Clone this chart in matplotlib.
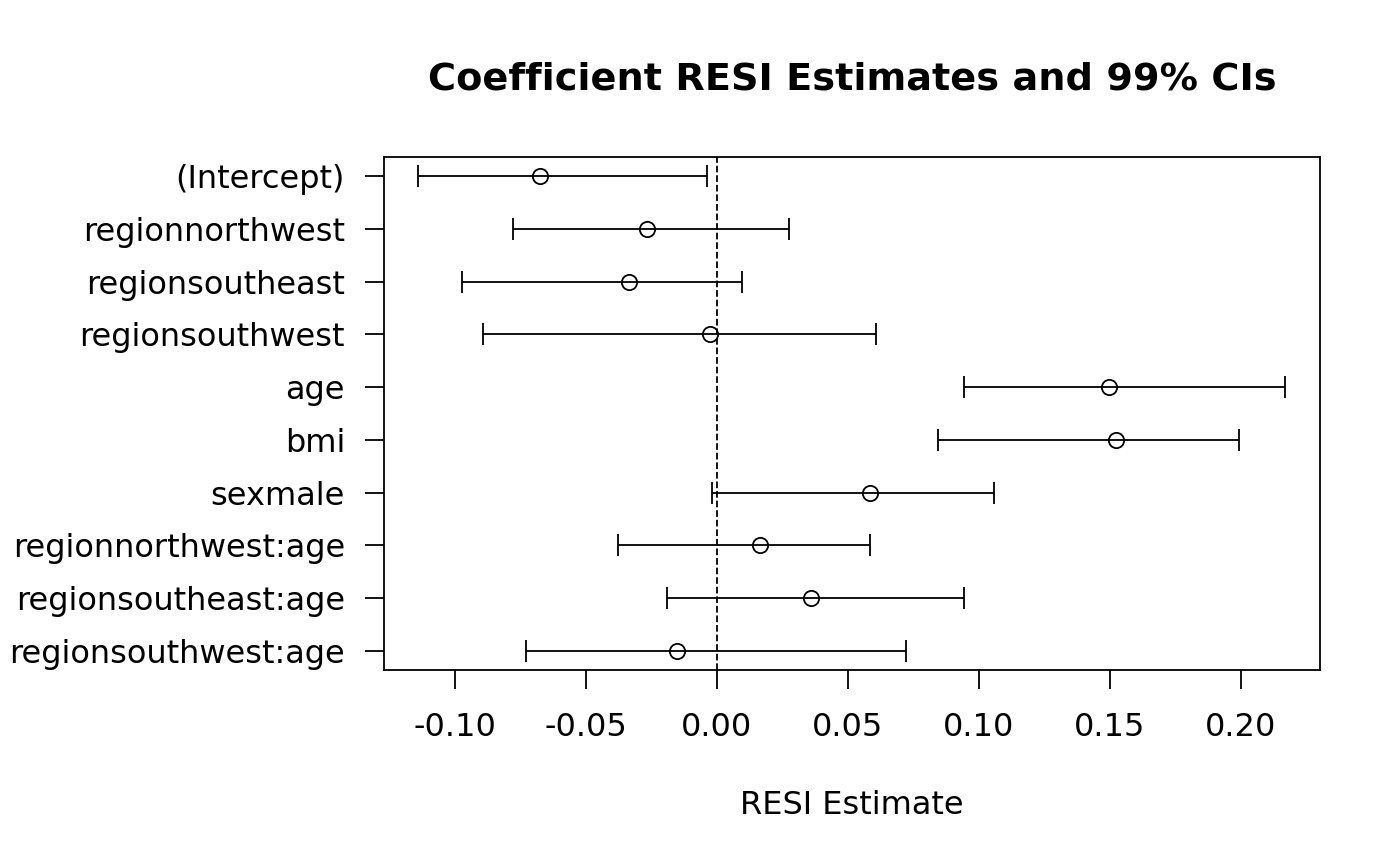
import numpy as np
import matplotlib.pyplot as plt

# coefficient names, top to bottom
terms = ['(Intercept)', 'regionnorthwest', 'regionsoutheast', 'regionsouthwest',
         'age', 'bmi', 'sexmale', 'regionnorthwest:age', 'regionsoutheast:age',
         'regionsouthwest:age']
est = [-0.0676, -0.0267, -0.0336, -0.0027, 0.1496, 0.1523, 0.0584, 0.0164, 0.0359, -0.0153]
lower = [-0.114, -0.0779, -0.0973, -0.0893, 0.0943, 0.0844, -0.0019, -0.0378, -0.0191, -0.0729]
upper = [-0.0038, 0.0275, 0.0095, 0.0607, 0.2168, 0.1992, 0.1057, 0.0584, 0.0943, 0.0721]

y = np.arange(len(terms), 0, -1)

fig = plt.figure(figsize=(14, 8.66), dpi=100)
ax = fig.add_axes([384/1400, 1-670/866, (1320-384)/1400, (670-157)/866])

ax.hlines(y, lower, upper, color='black', lw=1.3)
ax.plot(lower, y, '|', color='black', ms=16, mew=1.3)
ax.plot(upper, y, '|', color='black', ms=16, mew=1.3)
ax.plot(est, y, 'o', mfc='none', mec='black', ms=11, mew=1.3)
ax.axvline(0, color='black', ls='--', lw=1.3)

ax.set_xlim(-0.1271, 0.2302)
ax.set_ylim(0.64, 10.36)
ax.set_yticks(y)
ax.set_yticklabels(terms, fontsize=23)
xt = np.arange(-0.10, 0.201, 0.05)
ax.set_xticks(xt)
ax.set_xticklabels([f'{v:.2f}' for v in xt], fontsize=23)
ax.tick_params(axis='both', length=14, width=1.3, colors='black')
ax.tick_params(axis='x', pad=16)
ax.tick_params(axis='y', pad=14)
for s in ax.spines.values():
    s.set_linewidth(1.3)

ax.set_xlabel('RESI Estimate', fontsize=23, labelpad=34)
fig.text((384+1320)/2/1400, 1-80/866, 'Coefficient RESI Estimates and 99% CIs',
         ha='center', va='center', fontsize=27.5, fontweight='bold')

fig.savefig('out.png', dpi=100)
